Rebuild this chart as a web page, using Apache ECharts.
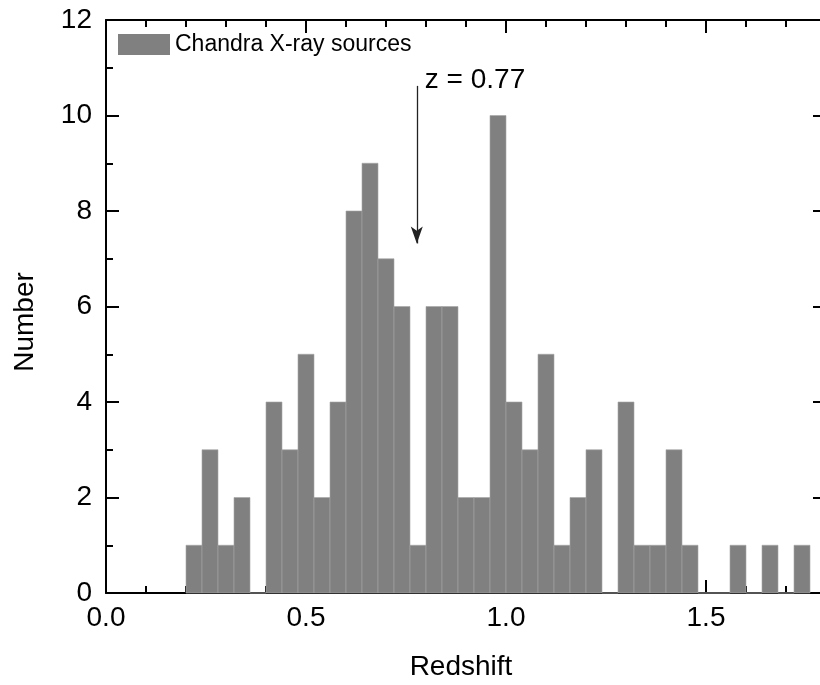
<!DOCTYPE html>
<html>
<head>
<meta charset="utf-8">
<script src="https://cdn.jsdelivr.net/npm/echarts@6/dist/echarts.min.js"></script>
<style>html,body{margin:0;padding:0;background:#fff}#c{width:820px;height:685px}</style>
</head>
<body>
<div id="c"></div>
<script>
// Histogram bins (left edges) and counts
var binWidth = 0.04;
var binStarts = [0.20,0.24,0.28,0.32,0.36,0.40,0.44,0.48,0.52,0.56,0.60,0.64,0.68,0.72,0.76,0.80,0.84,0.88,0.92,0.96,1.00,1.04,1.08,1.12,1.16,1.20,1.24,1.28,1.32,1.36,1.40,1.44,1.48,1.52,1.56,1.60,1.64,1.68,1.72];
var counts    = [1,3,1,2,0,4,3,5,2,4,8,9,7,6,1,6,6,2,2,10,4,3,5,1,2,3,0,4,1,1,3,1,0,0,1,0,1,0,1];
var xTicks = [0.0, 0.5, 1.0, 1.5];
var yTicks = [0, 2, 4, 6, 8, 10, 12];
var seriesName = 'Chandra X-ray sources';
var arrowX = 0.777, arrowTop = 10.62, arrowTip = 7.32;
var annotation = 'z = 0.77';
var annotationPos = [0.797, 10.73];

var data = binStarts.map(function (s, i) { return [s, s + binWidth, counts[i]]; });
var FONT = 'Liberation Sans, Arial, sans-serif';
var MAJ = 13, MIN = 7;

var chart = echarts.init(document.getElementById('c'), null, {renderer: 'canvas'});
var tickStyle = {color: '#000', width: 2};

// axis carrying line (+ optional labels), no ticks
function frameAxis(kind, pos, min, max, interval, showLabel) {
  return {
    type: 'value', position: pos, min: min, max: max, interval: interval,
    axisLine: {show: true, onZero: false, lineStyle: {color: '#000', width: 2}},
    axisTick: {show: false},
    axisLabel: {show: showLabel, color: '#000', fontSize: 28, fontFamily: FONT,
      margin: kind === 'x' ? 11 : 14, showMaxLabel: kind === 'x' ? false : true,
      formatter: kind === 'x' ? function (v) { return v.toFixed(1); } : '{value}'},
    splitLine: {show: false}
  };
}
// invisible axis shifted inward so its outward ticks end on the frame line
function tickAxis(pos, min, max, interval, len) {
  return {
    type: 'value', position: pos, min: min, max: max, interval: interval, offset: -len,
    axisLine: {show: false, onZero: false},
    axisTick: {show: true, inside: false, length: len, lineStyle: tickStyle},
    axisLabel: {show: false}, splitLine: {show: false}
  };
}
var xa0 = frameAxis('x', 'bottom', 0, 1.8, 0.5, true);
xa0.name = 'Redshift';
xa0.nameLocation = 'middle';
xa0.nameGap = 60;
xa0.nameTextStyle = {color: '#000', fontSize: 28, fontFamily: FONT, padding: [0, 10, 0, 0]};

chart.setOption({
  animation: false,
  backgroundColor: '#fff',
  grid: {left: 106, right: -6, top: 20, bottom: 92, containLabel: false, outerBoundsMode: 'none'},
  legend: {
    show: true, left: 118, top: 33, padding: 0, itemWidth: 52, itemHeight: 21, itemGap: 6,
    icon: 'rect', data: [seriesName],
    textStyle: {color: '#000', fontSize: 23, fontFamily: FONT, padding: [0, 0, 0, 0]}
  },
  xAxis: [
    xa0,
    tickAxis('bottom', 0, 1.8, 0.5, MAJ),
    tickAxis('bottom', 0, 1.8, 0.1, MIN),
    frameAxis('x', 'top', 0, 1.8, 0.5, false),
    tickAxis('top', 0, 1.8, 0.5, MAJ),
    tickAxis('top', 0, 1.8, 0.1, MIN)
  ],
  yAxis: [
    frameAxis('y', 'left', 0, 12, 2, true),
    tickAxis('left', 0, 12, 2, MAJ),
    tickAxis('left', 0, 12, 1, MIN),
    frameAxis('y', 'right', 0, 12, 2, false),
    tickAxis('right', 0, 12, 2, MAJ)
  ],
  graphic: [{
    type: 'text', x: 25, y: 322, rotation: Math.PI / 2,
    style: {text: 'Number', fill: '#000', font: '28px ' + FONT, textAlign: 'center', textVerticalAlign: 'middle'}
  }],
  series: [{
    name: seriesName,
    type: 'custom',
    xAxisIndex: 0, yAxisIndex: 0,
    itemStyle: {color: '#808080'},
    encode: {x: [0, 1], y: 2},
    renderItem: function (params, api) {
      var p0 = api.coord([api.value(0), api.value(2)]);
      var p1 = api.coord([api.value(1), 0]);
      return {
        type: 'rect',
        shape: {x: p0[0], y: p0[1], width: p1[0] - p0[0], height: p1[1] - p0[1]},
        style: {fill: '#808080', stroke: '#a6a6a6', lineWidth: 0.6}
      };
    },
    data: data,
    markLine: {
      silent: true, animation: false,
      symbol: ['none', 'arrow'], symbolSize: [9, 17],
      lineStyle: {color: '#222', width: 1.3, type: 'solid'},
      label: {show: false},
      data: [[{coord: [arrowX, arrowTop]}, {coord: [arrowX, arrowTip]}]]
    },
    markPoint: {
      silent: true, symbol: 'circle', symbolSize: 0,
      label: {show: true, position: 'right', distance: 0, formatter: annotation,
        color: '#000', fontSize: 28, fontFamily: FONT},
      data: [{coord: annotationPos}]
    }
  }]
});
</script>
</body>
</html>
